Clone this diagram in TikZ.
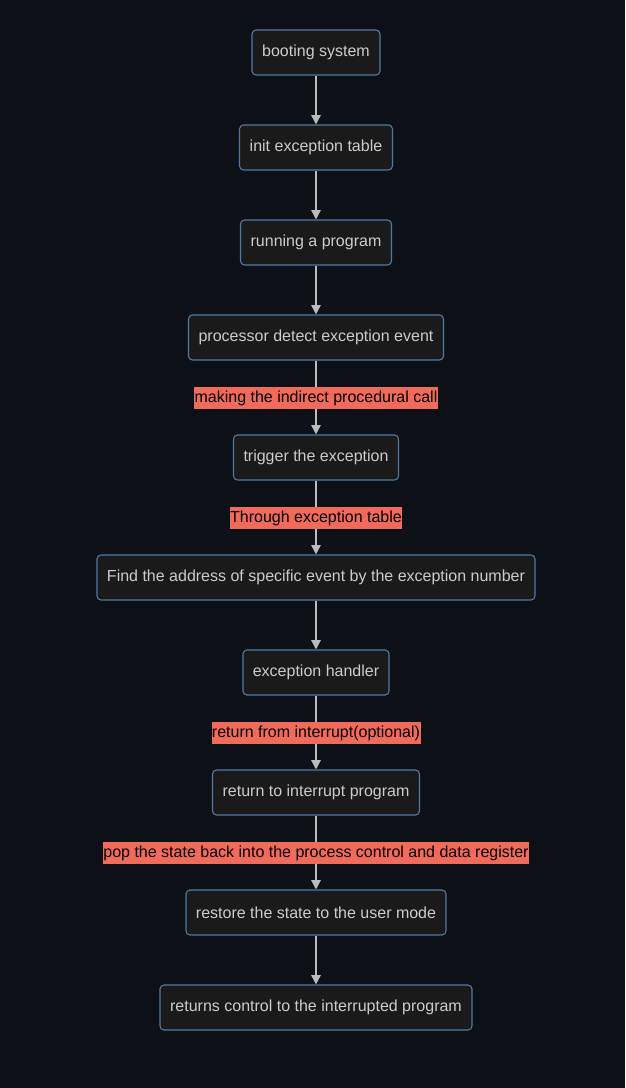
\documentclass[tikz,border=0pt]{standalone}
\usepackage{fontspec}
\setmainfont{Liberation Sans}
\usetikzlibrary{arrows.meta}
\definecolor{bg}{HTML}{0D1117}
\definecolor{boxfill}{HTML}{1A1A1A}
\definecolor{boxline}{HTML}{4F7AA6}
\definecolor{boxtext}{HTML}{CCCCCC}
\definecolor{lblfill}{HTML}{F26A5A}
\definecolor{arrowc}{HTML}{BBBBBB}
\tikzset{
  stepbox/.style={draw=boxline, fill=boxfill, rounded corners=3pt, line width=0.8pt,
    text=boxtext, font=\fontsize{12}{14}\selectfont, minimum height=45*0.75pt,
    inner xsep=0pt, anchor=center},
  lbl/.style={fill=lblfill, text=black, font=\fontsize{12}{14}\selectfont,
    inner xsep=0pt, inner ysep=0pt, minimum height=22*0.75pt},
  flow/.style={draw=arrowc, line width=1.1pt, -{Triangle[length=7pt,width=7pt]}},
}
\begin{document}
\begin{tikzpicture}[x=0.75pt,y=-0.75pt]
\fill[bg] (0,0) rectangle (625,1088);
\useasboundingbox (0,0) rectangle (625,1088);
\node[stepbox, minimum width=128*0.75pt] (n1) at (316,52.5) {booting system};
\node[stepbox, minimum width=153*0.75pt] (n2) at (316,147.5) {init exception table};
\node[stepbox, minimum width=151*0.75pt] (n3) at (316,242.5) {running a program};
\node[stepbox, minimum width=255*0.75pt] (n4) at (316,337.5) {processor detect exception event};
\node[stepbox, minimum width=165*0.75pt] (n5) at (316,457.5) {trigger the exception};
\node[stepbox, minimum width=438*0.75pt] (n6) at (316,577.5) {Find the address of specific event by the exception number};
\node[stepbox, minimum width=146*0.75pt] (n7) at (316,672.5) {exception handler};
\node[stepbox, minimum width=207*0.75pt] (n8) at (316,792.5) {return to interrupt program};
\node[stepbox, minimum width=260*0.75pt] (n9) at (316,912.5) {restore the state to the user mode};
\node[stepbox, minimum width=312*0.75pt] (n10) at (316,1007.5) {returns control to the interrupted program};
\draw[flow] (n1) -- (n2);
\draw[flow] (n2) -- (n3);
\draw[flow] (n3) -- (n4);
\draw[flow] (n4) -- (n5);
\draw[flow] (n5) -- (n6);
\draw[flow] (n6) -- (n7);
\draw[flow] (n7) -- (n8);
\draw[flow] (n8) -- (n9);
\draw[flow] (n9) -- (n10);
\node[lbl, minimum width=244*0.75pt] (l1) at (316,398) {making the indirect procedural call};
\node[lbl, minimum width=172*0.75pt] (l2) at (316,518) {Through exception table};
\node[lbl, minimum width=209*0.75pt] (l3) at (316,733) {return from interrupt(optional)};
\node[lbl, minimum width=425*0.75pt] (l4) at (316,853) {pop the state back into the process control and data register};
\end{tikzpicture}
\end{document}
